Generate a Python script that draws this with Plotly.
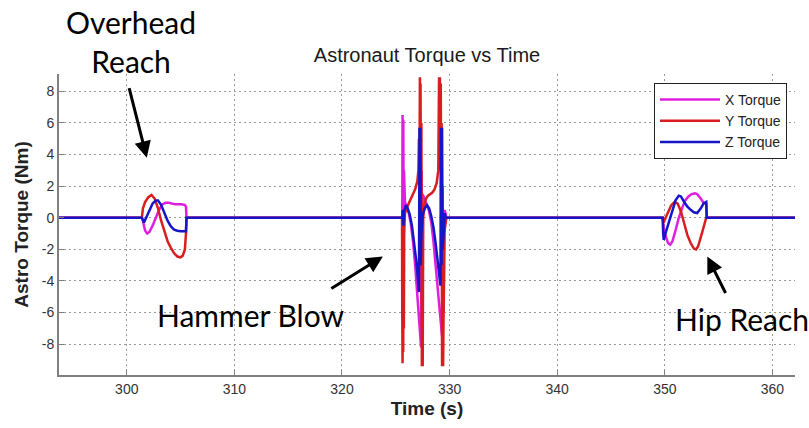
import plotly.graph_objects as go

# ---------------- data ----------------
T_START, T_END = 293.7, 362.1

# X torque (magenta)
x_time = [T_START,
          301.4, 301.5, 301.7, 301.9, 302.1, 302.4, 302.7, 303.0, 303.3, 303.6, 303.9, 304.2, 304.5, 304.8, 305.1, 305.4, 305.5, 305.55,
          325.5, 325.6, 325.63, 325.66, 325.7, 325.73, 325.76, 325.85, 326.0, 326.2, 326.4, 326.6, 326.8, 327.0, 327.2, 327.35, 327.4, 327.45,
          327.5, 327.7, 327.9, 328.1, 328.3, 328.5, 328.7, 328.9, 329.1, 329.3, 329.35, 329.45, 329.55, 329.7,
          349.8, 349.9, 350.1, 350.3, 350.5, 350.7, 351.0, 351.3, 351.6, 351.9, 352.2, 352.5, 352.8, 353.0, 353.3, 353.6, 353.85, 353.9,
          T_END]
x_torque = [0,
            0, -0.2, -0.8, -1.0, -0.9, -0.5, 0.0, 0.5, 0.85, 0.95, 0.95, 0.9, 0.85, 0.85, 0.85, 0.8, 0.7, 0,
            0, 0, 6.5, -2, 6.2, -1, 3, 1.0, 0.7, 0.3, -0.4, -1.5, -3, -4.8, -6.5, -8.2, 3, -7,
            1.5, 1.2, 0.8, 0.4, -0.3, -1.5, -3, -4.8, -6.5, -7.5, 2, -6, 0.5, 0,
            0, -0.6, -1.2, -1.6, -1.7, -1.5, -0.8, 0.0, 0.6, 1.1, 1.35, 1.5, 1.55, 1.5, 1.25, 0.95, 0.9, 0,
            0]

# Y torque (red)
y_time = [T_START,
          301.4, 301.5, 301.7, 302.0, 302.3, 302.6, 302.9, 303.2, 303.5, 303.8, 304.1, 304.4, 304.7, 305.0, 305.2, 305.4, 305.5, 305.55,
          325.5, 325.58, 325.6, 325.63, 325.66, 325.69, 325.72, 325.75, 325.78, 325.85, 326.0, 326.2, 326.4, 326.6, 326.8, 327.0, 327.1,
          327.15, 327.18, 327.21, 327.24, 327.27, 327.3, 327.34, 327.38, 327.42, 327.46, 327.5, 327.55, 327.65, 327.8, 328.0, 328.2, 328.4, 328.6, 328.8,
          328.95, 329.02, 329.06, 329.1, 329.14, 329.18, 329.22, 329.26, 329.3, 329.35, 329.4, 329.45, 329.5, 329.6, 329.7,
          349.8, 349.9, 350.2, 350.6, 350.9, 351.2, 351.5, 351.8, 352.1, 352.4, 352.7, 352.9, 353.1, 353.4, 353.7, 353.85, 353.9,
          T_END]
y_torque = [0,
            0, 0.6, 1.0, 1.3, 1.45, 1.2, 0.6, -0.2, -0.9, -1.5, -1.9, -2.25, -2.45, -2.5, -2.4, -2.0, -1.0, 0,
            0, 0, -6, -9.2, -2, -8.5, 0.5, -7, -1, 0.3, 0.6, 0.9, 1.2, 1.5, 1.8, 2.3, 3.0,
            5, 8.9, 4, 8.9, 3, 8.5, -3, 6, -9.4, -5, -9.4, 0, 0.8, 1.2, 1.4, 1.5, 1.6, 1.8, 2.2,
            3.0, 8.9, 4, 8.9, 3, 8.5, -2, 6, -9.4, -5, -9.4, -3, -1, -0.5, 0,
            0, -0.3, 0.2, 0.8, 1.0, 0.9, 0.4, -0.4, -1.1, -1.6, -1.95, -2.0, -1.8, -1.1, -0.3, 0.0, 0,
            0]

# Z torque (blue)
z_time = [T_START,
          301.4, 301.6, 301.8, 302.1, 302.4, 302.7, 302.9, 303.2, 303.5, 303.8, 304.1, 304.4, 304.7, 305.0, 305.5, 305.55,
          325.5, 325.6, 325.65, 325.7, 325.8, 325.95, 326.1, 326.3, 326.5, 326.7, 326.9, 327.05, 327.15, 327.2, 327.24, 327.28, 327.32,
          327.38, 327.5, 327.7, 327.9, 328.1, 328.3, 328.5, 328.7, 328.9, 329.05, 329.15, 329.2, 329.25, 329.3, 329.35, 329.45, 329.55, 329.65,
          349.8, 349.85, 349.9, 350.1, 350.4, 350.7, 351.0, 351.3, 351.5, 351.8, 352.1, 352.4, 352.7, 353.0, 353.3, 353.6, 353.85, 353.9,
          T_END]
z_torque = [0,
            0, -0.3, 0.0, 0.5, 0.9, 1.1, 1.1, 0.8, 0.3, -0.2, -0.55, -0.75, -0.82, -0.85, -0.85, 0,
            0, 0, 0.5, -0.5, 0.5, 0.8, 0.6, 0.2, -0.5, -1.5, -2.7, -3.8, -4.7, 5.7, -2, 5.7, -3,
            -1, 0.2, 0.6, 0.8, 0.6, 0.1, -0.6, -1.6, -2.8, -3.8, -4.3, 5.7, -3, 5.7, -2, -1, 0.3, 0,
            0, -1.0, -1.4, -0.9, -0.2, 0.5, 1.1, 1.4, 1.35, 1.0, 0.7, 0.5, 0.35, 0.3, 0.55, 0.9, 1.0, 0,
            0]

series_names = ["X Torque", "Y Torque", "Z Torque"]
series_colors = ["#e01ee0", "#d81e1e", "#1616c8"]

x_ticks = [300, 310, 320, 330, 340, 350, 360]
x_ticktext = ["300", "310", "320", "330", "340", "350", "360"]
y_ticks = [-8, -6, -4, -2, 0, 2, 4, 6, 8]
y_ticktext = ["-8", "-6", "-4", "-2", "0", "2", "4", "6", "8"]

# ---------------- figure ----------------
fig = go.Figure()
for name, t, v, c in zip(series_names, [x_time, y_time, z_time], [x_torque, y_torque, z_torque], series_colors):
    fig.add_trace(go.Scatter(x=t, y=v, mode="lines", name=name,
                             line=dict(color=c, width=2.5)))

W, H = 809, 428
L, R, TOP, BOT = 59, 14, 74, 51
pw, ph = W - L - R, H - TOP - BOT

def px_to_paper(px, py):
    return (px - L) / pw, (H - BOT - py) / ph

axis_common = dict(
    showline=True, linecolor="#808080", linewidth=2,
    ticks="inside", ticklen=5, tickcolor="#808080", tickwidth=1,
    showgrid=True, gridcolor="#9a9a9a", griddash="2px,3px", gridwidth=1.3,
    zeroline=False, mirror=False,
    tickfont=dict(family="Liberation Sans, Arial", size=14, color="#333333"),
)

fig.update_layout(
    width=W, height=H,
    margin=dict(l=L, r=R, t=TOP, b=BOT),
    paper_bgcolor="white", plot_bgcolor="white",
    title=dict(text="Astronaut Torque vs Time", x=0.5, xref="paper",
               y=1 - 55 / H, yref="container", yanchor="middle", xanchor="center",
               font=dict(family="Liberation Sans, Arial", size=20, color="#1a1a1a")),
    xaxis=dict(range=[T_START, T_END], tickvals=x_ticks, ticktext=x_ticktext,
               title=dict(text="<b>Time (s)</b>", standoff=6,
                          font=dict(family="Liberation Sans, Arial", size=19, color="#222222")),
               **axis_common),
    yaxis=dict(range=[-9.95, 9.1], tickvals=y_ticks, ticktext=y_ticktext,
               title=dict(text="<b>Astro Torque (Nm)</b>", standoff=8,
                          font=dict(family="Liberation Sans, Arial", size=19, color="#222222")),
               **axis_common),
    legend=dict(x=px_to_paper(787, 0)[0], y=px_to_paper(0, 83)[1], xanchor="right", yanchor="top",
                bgcolor="white", bordercolor="#222222", borderwidth=1, itemwidth=60,
                font=dict(family="Liberation Sans, Arial", size=14, color="#222222")),
    showlegend=True,
)

# text annotations
ann_font = dict(family="Lato", size=30, color="black")
for txt, (cx, cy) in [("Overhead<br>Reach", (131, 41)), ("Hammer Blow", (250, 317)), ("Hip Reach", (742, 321))]:
    px_, py_ = px_to_paper(cx, cy)
    fig.add_annotation(text=txt, x=px_, y=py_, xref="paper", yref="paper",
                       xanchor="center", yanchor="middle", showarrow=False, font=ann_font)

# arrows: head at data point, tail offset in pixels
arrows = [((301.86, 3.8), (-18, -71)), ((323.8, -2.45), (-53, 33)), ((353.95, -2.45), (19, 38))]
for (hx, hy), (ax, ay) in arrows:
    fig.add_annotation(text="", x=hx, y=hy, xref="x", yref="y", ax=ax, ay=ay,
                       showarrow=True, arrowhead=2, arrowsize=1.1, arrowwidth=3, arrowcolor="black")

fig.write_html("out.html")
